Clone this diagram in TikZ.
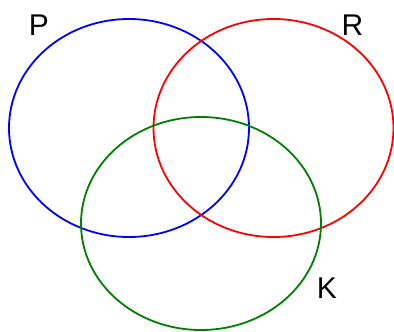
\documentclass[tikz,border=0pt]{standalone}
\usepackage{fontspec}
\setmainfont{Liberation Sans}
\begin{document}
\begin{tikzpicture}[x=1pt,y=-1pt,
  circ/.style={line width=1.8pt},
  lbl/.style={font=\fontsize{30}{32}\selectfont, inner sep=0pt}]
\useasboundingbox (0,0) rectangle (394,332);
\draw[circ, blue] (129,128) ellipse [x radius=120, y radius=109];
\draw[circ, red] (273.5,128) ellipse [x radius=120, y radius=109];
\draw[circ, green!50!black] (201,223.5) ellipse [x radius=120, y radius=106.5];
\node[lbl] (p) at (39,25) {P};
\node[lbl] (r) at (352.5,25) {R};
\node[lbl] (k) at (327,288) {K};
\end{tikzpicture}
\end{document}
